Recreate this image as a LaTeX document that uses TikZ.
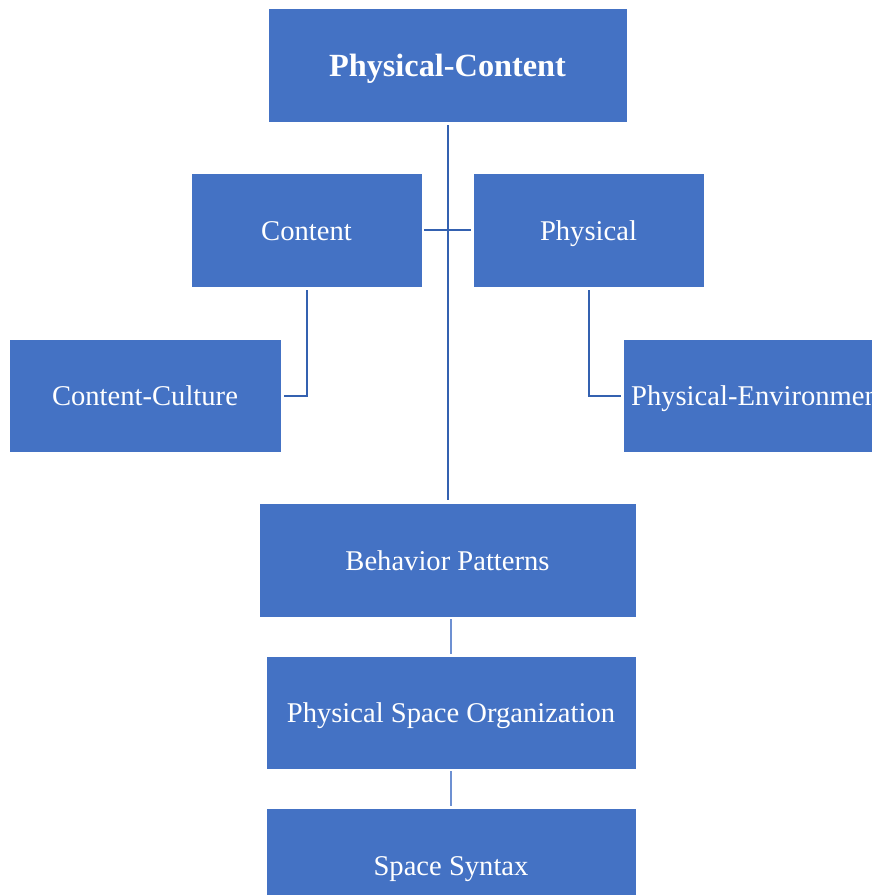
\documentclass[tikz,border=0pt]{standalone}
\usepackage{fontspec}
\setmainfont{Liberation Serif}
\definecolor{boxblue}{HTML}{4472C4}
\definecolor{linedark}{HTML}{3461B0}
\definecolor{linelight}{HTML}{6D90D2}
\begin{document}
\begin{tikzpicture}[x=1pt,y=-1pt,
  box/.style={rectangle, fill=boxblue, draw=white, line width=0.6pt, text=white, inner sep=0pt, text height=25pt, text depth=5pt, font=\fontsize{28.6}{32}\selectfont},
  mainline/.style={draw=linedark, line width=2pt},
  thinline/.style={draw=linelight, line width=1.1pt}]
\clip (0,0) rectangle (872,895);
\fill[white] (0,0) rectangle (872,895);
\node[box, minimum width=359pt, minimum height=114pt, text height=28pt, text depth=6pt, font=\fontsize{32.3}{36}\selectfont\bfseries] (pc) at (447.5,65) {Physical-Content};
\node[box, minimum width=231pt, minimum height=114pt] (content) at (306.5,230) {Content};
\node[box, minimum width=231pt, minimum height=114pt] (physical) at (588.5,230) {Physical};
\node[box, minimum width=272pt, minimum height=113pt] (cc) at (145,395.5) {Content-Culture};
\node[box, minimum width=272pt, minimum height=113pt] (pe) at (759,395.5) {Physical-Environment};
\node[box, minimum width=377pt, minimum height=114pt] (bp) at (447.5,560) {Behavior Patterns};
\node[box, minimum width=370pt, minimum height=113pt] (pso) at (451,712.5) {Physical Space Organization};
\node[box, minimum width=370pt, minimum height=114pt] (ss) at (451,865) {Space Syntax};
\draw[mainline, shorten <=3pt, shorten >=3pt] (pc.south) -- (bp.north);
\draw[mainline, shorten <=2pt, shorten >=2pt] (content.east) -- (physical.west);
\draw[mainline, shorten <=3pt, shorten >=3pt] (content.south) |- (cc.east);
\draw[mainline, shorten <=3pt, shorten >=2pt] (physical.south) |- (pe.west);
\draw[thinline, shorten <=2pt, shorten >=2pt] (pso.north) -- (pso.north |- bp.south);
\draw[thinline, shorten <=2pt, shorten >=2pt] (ss.north) -- (pso.south);
\end{tikzpicture}
\end{document}
